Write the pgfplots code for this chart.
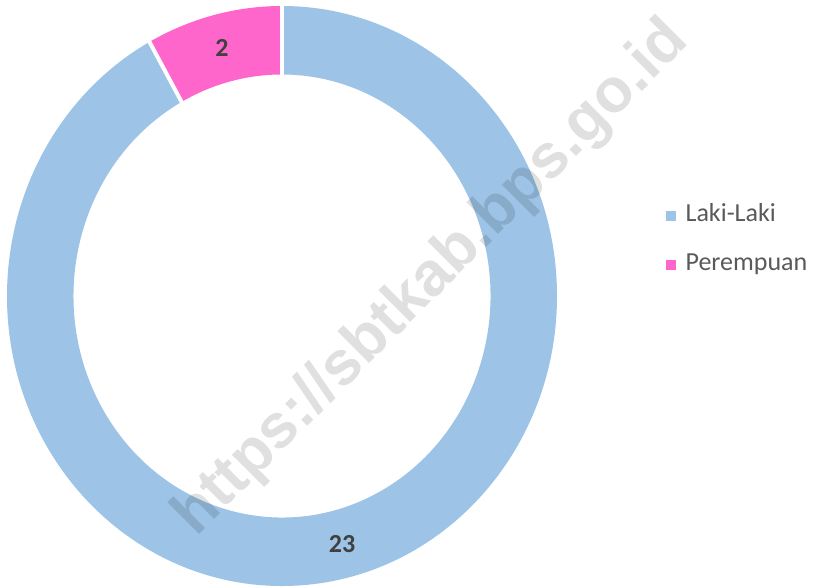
\documentclass[border=0pt]{standalone}
\usepackage{pgfplots}
\pgfplotsset{compat=1.18}
\usepackage{pgfplotstable}
\usepackage{fontspec}
\setmainfont{Carlito}
\newfontfamily\wmfont{Liberation Sans}
\definecolor{lakiblue}{HTML}{9DC3E6}
\definecolor{pink}{HTML}{FF66CC}
\definecolor{lbl}{HTML}{404040}
\definecolor{legtxt}{HTML}{595959}

\pgfplotstableread{
label value
Laki-Laki 23
Perempuan 2
}\datatable

\begin{document}
\begin{tikzpicture}
\pgfplotstablegetelem{0}{value}\of\datatable \pgfmathsetmacro\va{\pgfplotsretval}
\pgfplotstablegetelem{1}{value}\of\datatable \pgfmathsetmacro\vb{\pgfplotsretval}
\pgfmathsetmacro\tot{\va+\vb}
\pgfmathsetmacro\aS{90}
\pgfmathsetmacro\aM{90-360*\va/\tot}
\pgfmathsetmacro\aE{-270}
\pgfmathsetmacro\mA{(\aS+\aM)/2}
\pgfmathsetmacro\mB{(\aM+\aE)/2}
\pgfmathtruncatemacro\la{\va}
\pgfmathtruncatemacro\lb{\vb}
\begin{axis}[
  x=1bp, y=1bp,
  xmin=0, xmax=815, ymin=0, ymax=586,
  hide axis, clip=false,
  legend style={at={(axis cs:666,384)}, anchor=north west, draw=none, fill=none,
    font=\fontsize{26bp}{30bp}\selectfont\color{legtxt},
    row sep=25bp, inner sep=0pt,
    nodes={inner sep=0pt, text height=18bp, text depth=6bp},
    /tikz/every odd column/.append style={column sep=10bp}},
  legend cell align=left,
]
\path (axis cs:0,0) rectangle (axis cs:815,586);
\addlegendimage{legend image code/.code={\fill[lakiblue] (0bp,-4.5bp) rectangle (9bp,4.5bp);}}
\addlegendentry{Laki-Laki}
\addlegendimage{legend image code/.code={\fill[pink] (0bp,-4.5bp) rectangle (9bp,4.5bp);}}
\addlegendentry{Perempuan}
\begin{scope}[shift={(axis cs:282,291)}]
  \fill[lakiblue] (\aS:275bp and 290bp) arc[start angle=\aS, end angle=\aM, x radius=275bp, y radius=290bp]
     -- (\aM:208.5bp and 221.5bp) arc[start angle=\aM, end angle=\aS, x radius=208.5bp, y radius=221.5bp] -- cycle;
  \fill[pink] (\aM:275bp and 290bp) arc[start angle=\aM, end angle=\aE, x radius=275bp, y radius=290bp]
     -- (\aE:208.5bp and 221.5bp) arc[start angle=\aE, end angle=\aM, x radius=208.5bp, y radius=221.5bp] -- cycle;
  \draw[white, line width=4bp] (\aS:205bp and 218bp) -- (\aS:279bp and 294bp);
  \draw[white, line width=4bp] (\aM:205bp and 218bp) -- (\aM:279bp and 294bp);
  \node[font=\fontsize{26bp}{30bp}\selectfont\bfseries, text=lbl] at (\mA:241.75bp and 255.75bp) {\la};
  \node[font=\fontsize{26bp}{30bp}\selectfont\bfseries, text=lbl] at (\mB:241.75bp and 255.75bp) {\lb};
\end{scope}
\node[rotate=45, opacity=0.12, text=black, font=\wmfont\fontsize{62bp}{70bp}\selectfont\bfseries] at (axis cs:432,308) {https://sbtkab.bps.go.id};
\end{axis}
\end{tikzpicture}
\end{document}
